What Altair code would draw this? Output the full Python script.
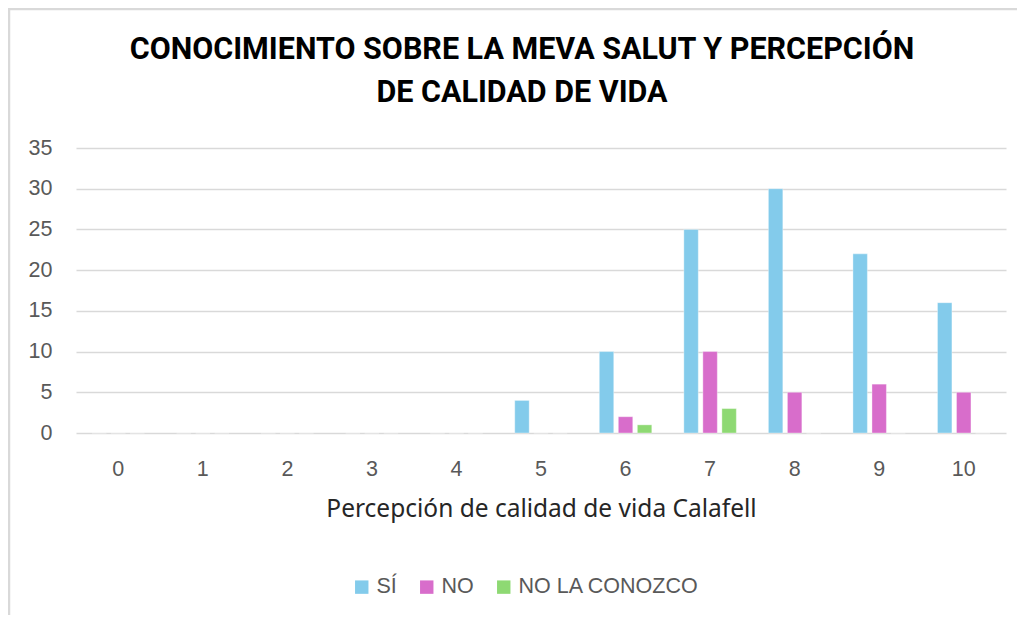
import altair as alt
import pandas as pd

categories = [str(i) for i in range(11)]
series_names = ["SÍ", "NO", "NO LA CONOZCO"]
si_values = [0, 0, 0, 0, 0, 4, 10, 25, 30, 22, 16]
no_values = [0, 0, 0, 0, 0, 0, 2, 10, 5, 6, 5]
nlc_values = [0, 0, 0, 0, 0, 0, 1, 3, 0, 0, 0]
colors = ["#83CBEB", "#D86DCB", "#8ED973"]
y_ticks = [0, 5, 10, 15, 20, 25, 30, 35]

rows = []
for name, vals in zip(series_names, [si_values, no_values, nlc_values]):
    for c, v in zip(categories, vals):
        rows.append({"cat": c, "serie": name, "valor": v})
df = pd.DataFrame(rows)

bars = alt.Chart(df).mark_bar(stroke="white", strokeWidth=0.6, strokeOpacity=0.6).encode(
    x=alt.X("cat:N", sort=categories,
            scale=alt.Scale(domain=categories, paddingInner=0.325, paddingOuter=0.1625),
            axis=alt.Axis(title="Percepción de calidad de vida Calafell", labelAngle=0,
                          ticks=False, domain=False, labelPadding=25, titlePadding=18,
                          labelFont="Liberation Sans", labelFontSize=21.5, labelColor="#595959",
                          titleFont="Noto Sans", titleFontSize=24.5, titleFontWeight="normal",
                          titleColor="#262626", grid=False)),
    xOffset=alt.XOffset("serie:N", sort=series_names,
                        scale=alt.Scale(domain=series_names, paddingInner=0.24, paddingOuter=0.12)),
    y=alt.Y("valor:Q", scale=alt.Scale(domain=[0, 35], nice=False),
            axis=alt.Axis(title=None, values=y_ticks, ticks=False, domain=False,
                          labelPadding=24, labelFont="Liberation Sans", labelFontSize=21.5,
                          labelColor="#595959", gridColor="#D9D9D9", gridWidth=1.6)),
    color=alt.Color("serie:N", sort=series_names,
                    scale=alt.Scale(domain=series_names, range=colors),
                    legend=alt.Legend(title=None, orient="none", direction="horizontal",
                                      legendX=275, legendY=428, symbolType="square",
                                      symbolSize=180, symbolStrokeWidth=0,
                                      labelFont="Liberation Sans", labelFontSize=21.5,
                                      labelColor="#595959", columnPadding=19,
                                      labelOffset=4, labelLimit=400)),
)

frame_df = pd.DataFrame({"k": [0]})
left_border = alt.Chart(frame_df).mark_rule(color="#D9D9D9", strokeWidth=2.5, clip=False).encode(
    x=alt.value(-67), y=alt.value(-140), y2=alt.value(470))
top_border = alt.Chart(frame_df).mark_rule(color="#D9D9D9", strokeWidth=2.5, clip=False).encode(
    x=alt.value(-67), x2=alt.value(945), y=alt.value(-139))

chart = alt.layer(bars, left_border, top_border).properties(
    width=930, height=285,
    background="white",
    title=alt.TitleParams(
        text=["CONOCIMIENTO SOBRE LA MEVA SALUT Y PERCEPCIÓN", "DE CALIDAD DE VIDA"],
        font="Roboto", fontSize=30.5, fontWeight="bold", color="#000000",
        lineHeight=43, anchor="middle", dx=-19, offset=-102),
    padding={"left": 68, "top": 140, "right": 11, "bottom": 182},
    autosize=alt.AutoSizeParams(type="none"),
).configure_view(stroke="transparent", strokeWidth=0)

chart.save("out.html", embed_options={"renderer": "svg", "actions": False})
